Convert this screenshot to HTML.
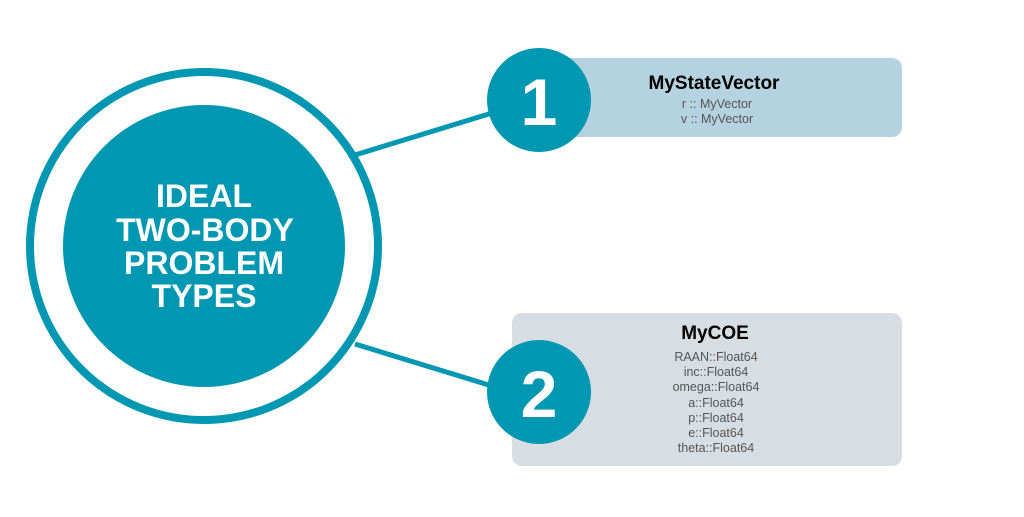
<!DOCTYPE html>
<html><head><style>
body{margin:0;width:1024px;height:512px;background:#fff;overflow:hidden;font-family:"Liberation Sans",sans-serif}
</style></head><body>
<svg width="1024" height="512" xmlns="http://www.w3.org/2000/svg">
<rect x="505" y="58" width="397" height="79" rx="10" fill="#b4d2df"/>
<rect x="512" y="313" width="390" height="153" rx="10" fill="#d6dde3"/>
<line x1="355" y1="155" x2="492" y2="113" stroke="#0097b2" stroke-width="5"/>
<line x1="355" y1="344" x2="492" y2="386" stroke="#0097b2" stroke-width="5"/>
<circle cx="204" cy="246" r="174" fill="none" stroke="#0097b2" stroke-width="8"/>
<circle cx="204" cy="246" r="141" fill="#0097b2"/>
<g fill="#fff" font-weight="bold" font-size="32" text-anchor="middle">
<text x="204" y="207">IDEAL</text>
<text x="205" y="241">TWO-BODY</text>
<text x="204" y="274">PROBLEM</text>
<text x="204" y="307">TYPES</text>
</g>
<circle cx="539" cy="100" r="52" fill="#0097b2"/>
<circle cx="539" cy="392" r="52" fill="#0097b2"/>
<text x="539" y="125" fill="#fff" font-weight="bold" font-size="66" text-anchor="middle">1</text>
<text x="539" y="417" fill="#fff" font-weight="bold" font-size="66" text-anchor="middle">2</text>
<text x="714" y="89" font-weight="bold" font-size="19" text-anchor="middle" fill="#000">MyStateVector</text>
<g font-size="12.5" fill="#555" text-anchor="middle">
<text x="717" y="108">r :: MyVector</text>
<text x="717" y="123">v :: MyVector</text>
</g>
<text x="715" y="339" font-weight="bold" font-size="19" text-anchor="middle" fill="#000">MyCOE</text>
<g font-size="12.5" fill="#555" text-anchor="middle">
<text x="716" y="361">RAAN::Float64</text>
<text x="716" y="376">inc::Float64</text>
<text x="716" y="391">omega::Float64</text>
<text x="716" y="407">a::Float64</text>
<text x="716" y="422">p::Float64</text>
<text x="716" y="437">e::Float64</text>
<text x="716" y="452">theta::Float64</text>
</g>
</svg>
</body></html>
